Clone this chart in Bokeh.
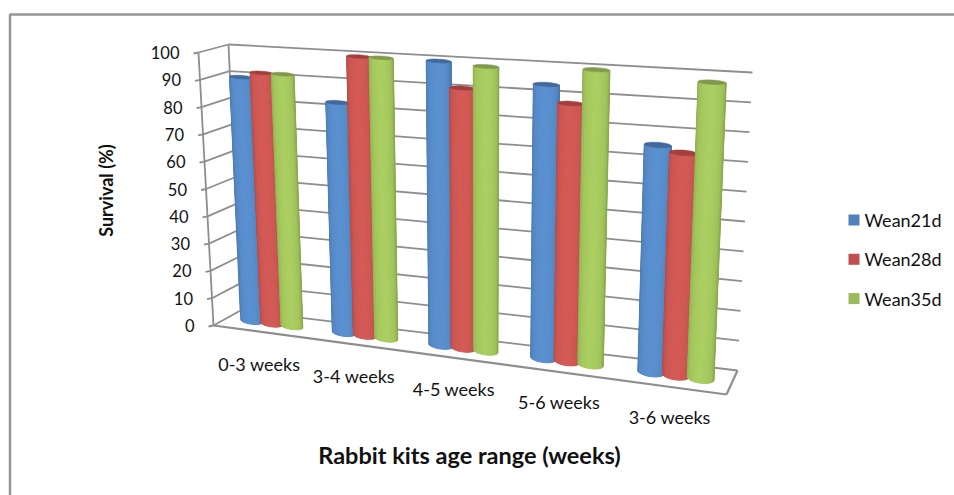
from bokeh.plotting import figure
from bokeh.models import Range1d
from bokeh.core.properties import value
from bokeh.embed import file_html
from bokeh.resources import INLINE
import math

categories = ["0-3 weeks", "3-4 weeks", "4-5 weeks", "5-6 weeks", "3-6 weeks"]
series_names = ["Wean21d", "Wean28d", "Wean35d"]
wean21 = [90, 83, 100, 94, 76]
wean28 = [92, 100, 91, 88, 74]
wean35 = [92, 100, 99, 100, 98]
y_ticks = [0, 10, 20, 30, 40, 50, 60, 70, 80, 90, 100]
x_title = "Rabbit kits age range (weeks)"
y_title = "Survival (%)"

FONT = value("Lato")
GRID = "#8e8e8e"
# pixel corners of the 3-D box: (u, depth, v)
C = {(0,0,0):(213,325),(0,0,1):(198,52),(0,1,0):(240,310),(0,1,1):(228,44),
     (1,0,0):(726,394),(1,0,1):(738,83),(1,1,0):(737,370),(1,1,1):(752,72)}

def P(u, w, v):
    v = v/100.0
    x = y = 0.0
    for (a,b,c),(px,py) in C.items():
        f = (u if a else 1-u)*(w if b else 1-w)*(v if c else 1-v)
        x += f*px; y += f*py
    return x, y

def warp(u):
    return u + 0.13*u*(u-1)

p = figure(width=954, height=495, output_backend="svg", toolbar_location=None,
           x_range=Range1d(0, 954), y_range=Range1d(495, 0), min_border=0,
           outline_line_color=None, background_fill_color="white", border_fill_color="white")
p.axis.visible = False
p.grid.visible = False

# chart frame
p.line([9.5, 9.5, 954], [495, 14, 14], line_color="#969696", line_width=2.5)

def seg(a, b, width=1.8):
    p.line([a[0], b[0]], [a[1], b[1]], line_color=GRID, line_width=width)

for t in y_ticks:
    seg(P(0,0,t), P(0,1,t))
    seg(P(0,1,t), P(1,1,t))
    fx, fy = P(0,0,t)
    seg((fx-5, fy+1), (fx, fy))
    p.text([fx-19], [fy], text=[str(t)], text_align="right", text_baseline="middle",
           text_font=FONT, text_font_size="16.5px", text_color="#111111")
seg(P(0,0,0), P(0,0,100))
seg(P(0,1,0), P(0,1,100))
seg(P(0,0,0), P(1,0,0), 2.2)
seg(P(1,0,0), P(1,1,0), 2.2)

# bars
STY = [("#3f6a9e", "#5a90cf", "#41699b"), ("#9c403d", "#d45a56", "#a23f3c"), ("#7b9544", "#aace61", "#80994a")]
def mix(a, b, t):
    ca = [int(a[i:i+2], 16) for i in (1,3,5)]
    cb = [int(b[i:i+2], 16) for i in (1,3,5)]
    return "#%02x%02x%02x" % tuple(round(x+(y-x)*t) for x, y in zip(ca, cb))

DIAM = 0.0475
STEP = 0.0445
DW = 0.2
W0 = 0.5
N = 14
def ring(uc, v, ang):
    u = warp(uc + DIAM/2*math.cos(ang))
    x, y = P(u, W0, v)
    _, y2 = P(warp(uc), W0 + DW*math.sin(ang), v)
    _, y1 = P(warp(uc), W0, v)
    return x, y + (y2-y1)

all_vals = [wean21, wean28, wean35]
for c in range(len(categories)):
    for s, vals in enumerate(all_vals):
        uc = (c + 0.5)/5 + (s-1)*STEP
        edge, mid, top = STY[s]
        val = vals[c]
        xs, ys, cols = [], [], []
        for i in range(N):
            a0 = math.pi + math.pi*i/N
            a1 = math.pi + math.pi*(i+1)/N
            b0, b1 = ring(uc, 0, a0), ring(uc, 0, a1)
            t0, t1 = ring(uc, val, a0), ring(uc, val, a1)
            xs.append([b0[0], b1[0], t1[0], t0[0]])
            ys.append([b0[1], b1[1], t1[1], t0[1]])
            k = math.sin(math.pi*(i+0.5)/N)
            cols.append(mix(edge, mid, k**0.5))
        p.patches(xs, ys, fill_color=cols, line_color=cols, line_width=1)
        el = [ring(uc, val, 2*math.pi*i/32) for i in range(32)]
        p.patch([e[0] for e in el], [e[1] for e in el], fill_color=top, line_color=top, line_width=0.5)

# category labels
for c, name in enumerate(categories):
    x, y = P(warp((c+0.5)/5), 0, 0)
    p.text([x+0.5], [y+32-c*0.5], text=[name], text_align="center", text_baseline="middle",
           text_font=FONT, text_font_size="18px", text_color="#111111", angle=0)

p.text([469], [454], text=[x_title], text_align="center", text_baseline="middle",
       text_font=FONT, text_font_size="23.5px", text_font_style="bold", text_color="#111111")
p.text([105], [190], text=[y_title], text_align="center", text_baseline="middle", angle=math.pi/2,
       text_font=FONT, text_font_size="18px", text_font_style="bold", text_color="#111111")

# legend
LEG = ["#4f81bd", "#c0504d", "#9bbb59"]
for i, name in enumerate(series_names):
    y = 219.5 + i*39.3
    p.quad(left=[848], right=[859], top=[y-5.5], bottom=[y+5.5], fill_color=LEG[i], line_color=None)
    p.text([864], [y], text=[name], text_baseline="middle", text_font=FONT,
           text_font_size="18px", text_color="#111111")

open("out.html", "w").write(file_html(p, INLINE))
